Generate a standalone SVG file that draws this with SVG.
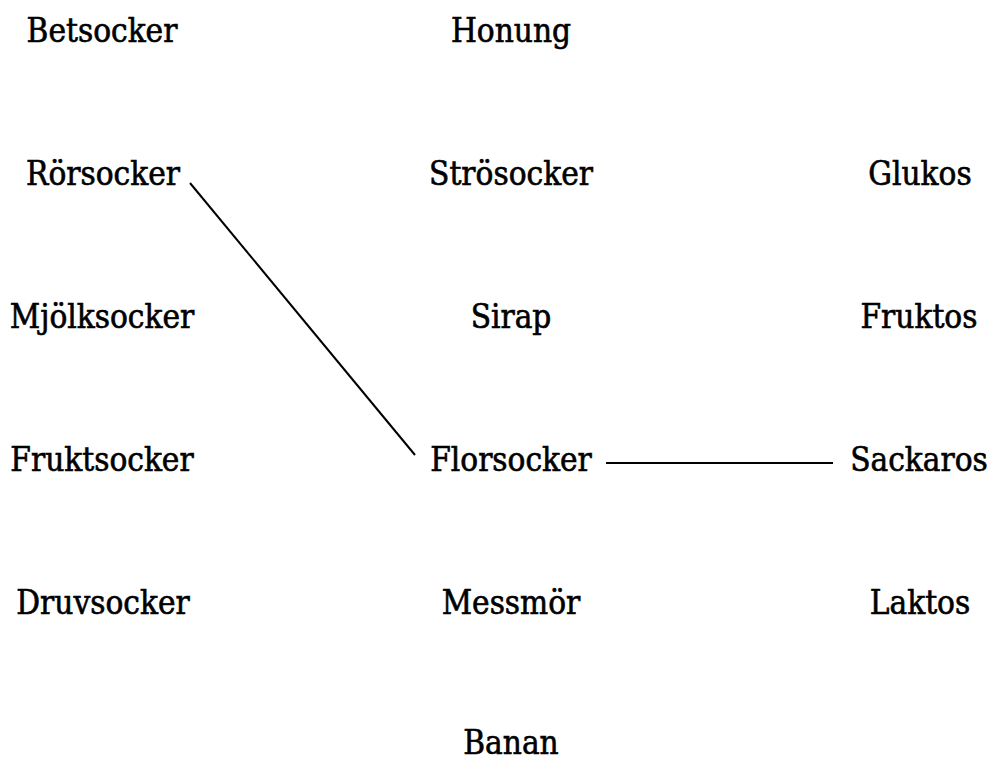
<svg xmlns="http://www.w3.org/2000/svg" width="989" height="761" viewBox="0 0 989 761">
<style>
text{font-family:"DejaVu Serif Condensed","DejaVu Serif",serif;font-size:33px;fill:#000;stroke:#000;stroke-width:0.6;text-anchor:middle}
.c{stroke:#000;stroke-width:2;fill:none}
</style>
<rect width="989" height="761" fill="#fff"/>
<g id="connectors">
<line class="c" x1="190" y1="183" x2="415" y2="455"/>
<line class="c" x1="606" y1="463" x2="833" y2="463"/>
</g>
<g id="n-betsocker"><text x="102" y="42">Betsocker</text></g>
<g id="n-rorsocker"><text x="103" y="185">Rörsocker</text></g>
<g id="n-mjolksocker"><text x="102" y="328">Mjölksocker</text></g>
<g id="n-fruktsocker"><text x="102" y="471">Fruktsocker</text></g>
<g id="n-druvsocker"><text x="103" y="614">Druvsocker</text></g>
<g id="n-honung"><text x="511" y="42">Honung</text></g>
<g id="n-strosocker"><text x="511" y="185">Strösocker</text></g>
<g id="n-sirap"><text x="511" y="328">Sirap</text></g>
<g id="n-florsocker"><text x="511" y="471">Florsocker</text></g>
<g id="n-messmor"><text x="511" y="614">Messmör</text></g>
<g id="n-banan"><text x="511" y="754">Banan</text></g>
<g id="n-glukos"><text x="920" y="185">Glukos</text></g>
<g id="n-fruktos"><text x="919" y="328">Fruktos</text></g>
<g id="n-sackaros"><text x="919" y="471">Sackaros</text></g>
<g id="n-laktos"><text x="920" y="614">Laktos</text></g>
</svg>
